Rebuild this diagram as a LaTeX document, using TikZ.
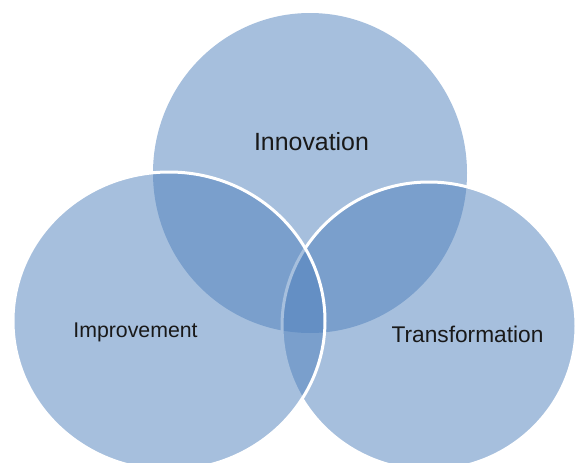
\documentclass[tikz,border=0pt]{standalone}
\usepackage{fontspec}
\setmainfont{Liberation Sans}
\definecolor{vennblue}{HTML}{4F81BD}
\begin{document}
\begin{tikzpicture}[x=1pt,y=-1pt,
  vennfill/.style={fill=vennblue,fill opacity=0.5},
  rim/.style={draw=white,line width=3pt},
  lbl/.style={text=black!90,anchor=base,inner sep=0pt}]
\useasboundingbox (0,0) rectangle (576,463);
\clip (0,0) rectangle (576,463);
\fill[white] (0,0) rectangle (576,463);
% top circle (no visible rim)
\path[vennfill] (310,173) ellipse [x radius=157pt, y radius=160pt];
% right circle
\path[vennfill,rim] (429,326) ellipse [x radius=147pt, y radius=144pt];
% left circle
\path[vennfill,rim] (169,321) ellipse [x radius=156pt, y radius=149pt];
% labels
\node[lbl,font=\fontsize{24.9}{30}\selectfont] (innov) at (311.5,150) {Innovation};
\node[lbl,font=\fontsize{21.3}{26}\selectfont] (improv) at (135.5,337) {Improvement};
\node[lbl,font=\fontsize{22.7}{27}\selectfont] (transf) at (467.5,342) {Transformation};
\end{tikzpicture}
\end{document}
